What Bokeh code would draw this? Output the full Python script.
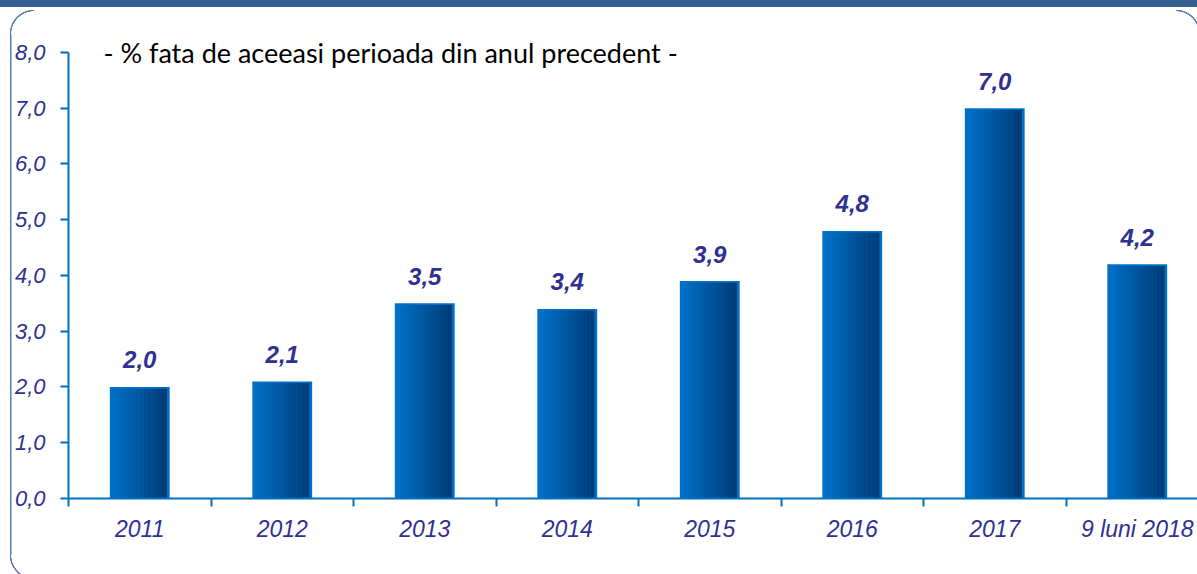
from bokeh.plotting import figure
from bokeh.models import ColumnDataSource, Range1d, FixedTicker, CustomJSTickFormatter, Label
from bokeh.transform import dodge
from bokeh.core.properties import value
from bokeh.embed import file_html
from bokeh.resources import INLINE

categories = ["2011", "2012", "2013", "2014", "2015", "2016", "2017", "9 luni 2018"]
values = [2.0, 2.1, 3.5, 3.4, 3.9, 4.8, 7.0, 4.2]
y_ticks = [0, 1, 2, 3, 4, 5, 6, 7, 8]
subtitle = "- % fata de aceeasi perioada din anul precedent -"

AXIS = "#0070c0"
NAVY = "#2e3192"
FRAME = "#5a80b0"

xs = list(range(len(categories)))
labels = [f"{v:.1f}".replace(".", ",") for v in values]
src = ColumnDataSource(dict(x=xs, top=values, label=labels))

p = figure(width=1197, height=574, output_backend="svg", toolbar_location=None,
           x_range=Range1d(-0.5, -0.5 + 1129 / 142.5), y_range=Range1d(0, 8.43),
           min_border_left=68, min_border_right=0, min_border_top=28, min_border_bottom=76)
p.outline_line_color = None
p.grid.grid_line_color = None
p.background_fill_color = "white"
p.border_fill_color = None
ring = f"transparent 22.5px, {FRAME} 23px, {FRAME} 24px, transparent 24.5px"
p.styles = {
    "background": ", ".join([
        "linear-gradient(#365f91, #365f91) 0 0 / 100% 7px no-repeat",
        f"radial-gradient(circle at 100% 100%, {ring}) 10px 8px / 24px 26px no-repeat",
        f"radial-gradient(circle at 100% 0%, {ring}) 10px 555px / 24px 24px no-repeat",
        f"radial-gradient(circle at 0% 100%, {ring}) 1176px 8px / 24px 26px no-repeat",
        f"linear-gradient({FRAME}, {FRAME}) 10px 34px / 1.5px 521px no-repeat",
        "white",
    ]),
}

# bars with a left-to-right gradient built from stripes
BW = 0.42
p.vbar(x="x", top="top", width=BW, bottom=0, source=src, fill_color="#0070c6", line_color=None)
n = 14
border = 0.02
inner = BW - 2 * border
c0 = (0x00, 0x6e, 0xc4)
c1 = (0x00, 0x3c, 0x78)
for k in range(n):
    t = k / (n - 1)
    col = "#%02x%02x%02x" % tuple(int(round(a + (b - a) * t)) for a, b in zip(c0, c1))
    off = -inner / 2 + inner * (k + 0.5) / n
    p.vbar(x=dodge("x", off), top=dodge("top", -0.03), width=inner / n * 1.05, bottom=0,
           source=src, fill_color=col, line_color=None)

p.text(x="x", y="top", text="label", source=src, text_align="center", text_baseline="alphabetic",
       y_offset=-27, text_font=value("Liberation Sans"), text_font_style="bold italic",
       text_font_size="24px", text_color=NAVY)

# axes
xa = p.xaxis[0]
xa.ticker = FixedTicker(ticks=xs, minor_ticks=[i - 0.5 for i in xs] + [len(xs) - 0.5])
xa.major_label_overrides = {i: c for i, c in enumerate(categories)}
xa.axis_line_color = AXIS
xa.axis_line_width = 2
xa.major_tick_line_color = None
xa.major_tick_out = 8
xa.major_tick_in = 0
xa.minor_tick_line_color = AXIS
xa.minor_tick_line_width = 2
xa.minor_tick_out = 8
xa.minor_tick_in = 0
xa.major_label_standoff = 9
xa.major_label_text_font = "Liberation Sans"
xa.major_label_text_font_style = "italic"
xa.major_label_text_font_size = "23px"
xa.major_label_text_color = NAVY

ya = p.yaxis[0]
ya.ticker = FixedTicker(ticks=y_ticks)
ya.formatter = CustomJSTickFormatter(code="return tick.toFixed(1).replace('.', ',');")
ya.bounds = (0, 8)
ya.axis_line_color = AXIS
ya.axis_line_width = 2
ya.major_tick_line_color = AXIS
ya.major_tick_line_width = 2
ya.major_tick_out = 8
ya.major_tick_in = 0
ya.minor_tick_line_color = None
ya.major_label_standoff = 15
ya.major_label_text_font = "Liberation Sans"
ya.major_label_text_font_style = "italic"
ya.major_label_text_font_size = "22px"
ya.major_label_text_color = NAVY

p.add_layout(Label(x=35, x_units="screen", y=8.0, y_units="data", text=subtitle,
                   text_font="Lato", text_font_size="27px", text_color="black",
                   text_baseline="middle"))

open("out.html", "w").write(file_html(p, INLINE))
